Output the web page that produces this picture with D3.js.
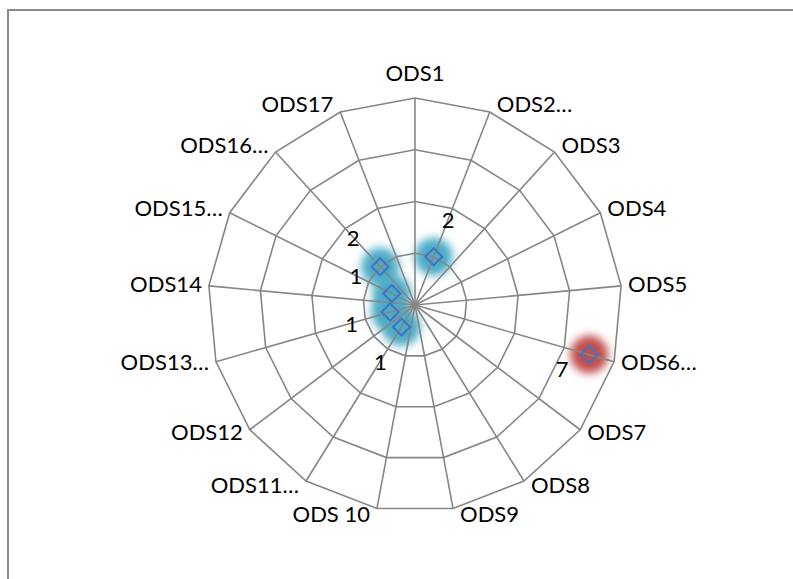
<!DOCTYPE html>
<html lang="en">
<head>
    <meta charset="UTF-8">
    <title>ODS radar</title>
    <script src="https://d3js.org/d3.v7.min.js"></script>
    <style>
        html, body { margin: 0; background: #fff; overflow: hidden; }
        svg { display: block; }
        text { font-family: Lato, "Noto Sans", sans-serif; fill: #000; }
    </style>
</head>
<body>
<svg></svg>
<script>

    // categories, clockwise from the top
    const categories = ["ODS1", "ODS2…", "ODS3", "ODS4", "ODS5", "ODS6…", "ODS7", "ODS8", "ODS9",
        "ODS 10", "ODS11…", "ODS12", "ODS13…", "ODS14", "ODS15…", "ODS16…", "ODS17"];
    // one series, blank where nothing was entered
    const values = [null, 2, null, null, null, 7, null, null, null, null, 1, null, 1, null, 1, 2, null];
    // glow colour per point (the one outlier is red)
    const glow = [null, "#4bacc6", null, null, null, "#c0504d", null, null, null, null,
        "#4bacc6", null, "#4bacc6", null, "#4bacc6", "#4bacc6", null];
    const ringTicks = [2, 4, 6, 8];

    const width = 793, height = 579;
    const cx = 415, cy = 305, R = 207;

    const svg = d3.select("svg").attr("width", width).attr("height", height);

    const defs = svg.append("defs");
    defs.append("filter").attr("id", "glow")
        .attr("x", "-100%").attr("y", "-100%").attr("width", "300%").attr("height", "300%")
        .append("feGaussianBlur").attr("stdDeviation", 4.5);

    // chart frame (cut off on the right and bottom)
    svg.append("rect")
        .attr("x", 8).attr("y", 10)
        .attr("width", 1000).attr("height", 1000)
        .attr("fill", "none").attr("stroke", "#8c8c8c").attr("stroke-width", 2);

    const r = d3.scaleLinear().domain([0, 8]).range([0, R]);
    const angle = d3.scaleLinear().domain([0, categories.length]).range([0, 2 * Math.PI]);

    function pt(i, v) {
        const a = angle(i);
        return [Math.sin(a) * r(v), -Math.cos(a) * r(v)];
    }

    const g = svg.append("g").attr("transform", `translate(${cx},${cy})`);

    const pts = values.map((v, i) => ({ i, v, c: glow[i] })).filter(d => d.v != null);

    // glow under the grid
    g.append("g").selectAll("circle").data(pts).join("circle")
        .attr("cx", d => pt(d.i, d.v)[0])
        .attr("cy", d => pt(d.i, d.v)[1])
        .attr("r", 19)
        .attr("fill", d => d.c)
        .attr("filter", "url(#glow)");

    // rings
    const line = d3.line().curve(d3.curveLinearClosed);
    g.append("g").selectAll("path").data(ringTicks).join("path")
        .attr("d", t => line(categories.map((c, i) => pt(i, t))))
        .attr("fill", "none").attr("stroke", "#868686").attr("stroke-width", 1.6);

    // spokes
    g.append("g").selectAll("line").data(categories).join("line")
        .attr("x1", 0).attr("y1", 0)
        .attr("x2", (c, i) => pt(i, 8)[0])
        .attr("y2", (c, i) => pt(i, 8)[1])
        .attr("stroke", "#868686").attr("stroke-width", 1.6);

    // category labels
    g.append("g").selectAll("text").data(categories).join("text")
        .attr("font-size", 22)
        .attr("dominant-baseline", "central")
        .attr("text-anchor", (c, i) => {
            const s = Math.sin(angle(i));
            return Math.abs(s) < 0.1 ? "middle" : (s > 0 ? "start" : "end");
        })
        .attr("x", (c, i) => {
            const s = Math.sin(angle(i));
            return pt(i, 8)[0] + (Math.abs(s) < 0.1 ? 0 : (s > 0 ? 7 : -7));
        })
        .attr("y", (c, i) => {
            const co = Math.cos(angle(i));
            if (Math.abs(Math.sin(angle(i))) < 0.1) return pt(i, 8)[1] - 26 * Math.sign(co);
            return pt(i, 8)[1] - 7 * co - 2;
        })
        .text(c => c);

    // markers: hollow diamonds
    const diamond = d3.symbol().type(d3.symbolDiamond2).size(185);
    g.append("g").selectAll("path").data(pts).join("path")
        .attr("transform", d => `translate(${pt(d.i, d.v)})`)
        .attr("d", diamond)
        .attr("fill", "none").attr("stroke", "#4472c4").attr("stroke-width", 2);

    // data labels: pushed outward along the spoke, the big one pulled back inside
    g.append("g").selectAll("text").data(pts).join("text")
        .attr("font-size", 22)
        .attr("text-anchor", "middle")
        .attr("dominant-baseline", "central")
        .attr("x", d => d.v >= 7 ? pt(d.i, d.v)[0] - 27 : pt(d.i, d.v + 1.55)[0])
        .attr("y", d => d.v >= 7 ? pt(d.i, d.v)[1] + 14 : pt(d.i, d.v + 1.55)[1])
        .text(d => d.v);

</script>
</body>
</html>
